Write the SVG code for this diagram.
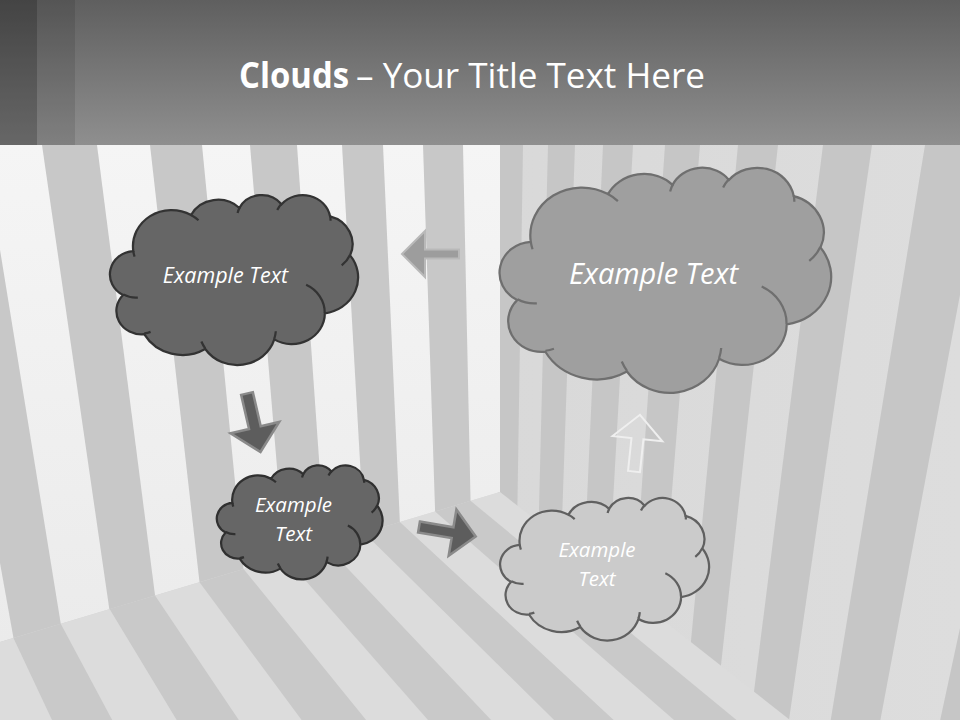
<svg xmlns="http://www.w3.org/2000/svg" xmlns:xlink="http://www.w3.org/1999/xlink" width="960" height="720" viewBox="0 0 960 720">
<defs>
<linearGradient id="hdr" x1="0" y1="0" x2="0" y2="1"><stop offset="0" stop-color="#5f5f5f"/><stop offset="1" stop-color="#8f8f8f"/></linearGradient>
<linearGradient id="lw" x1="0" y1="0" x2="0" y2="1"><stop offset="0" stop-color="#f5f5f5"/><stop offset="1" stop-color="#ebebeb"/></linearGradient>
<linearGradient id="rw" x1="0" y1="0" x2="1" y2="0"><stop offset="0" stop-color="#cfcfcf"/><stop offset="0.45" stop-color="#d8d8d8"/><stop offset="1" stop-color="#dddddd"/></linearGradient>
<path id="cloud" vector-effect="non-scaling-stroke" d="M3900 14370 A6753 9190 0 0 1 14005 5202 A5333 7267 0 0 1 22457 3434 A4365 5945 0 0 1 29834 2483 A4857 6595 0 0 1 38320 5578 A5333 7273 0 0 1 41820 15461 A6775 9220 0 0 1 37406 30205 A5785 7867 0 0 1 28558 36815 A6752 9215 0 0 1 16483 39268 A7720 10543 0 0 1 5808 35476 A4360 5918 0 0 1 2116 25555 A4345 5945 0 0 1 3900 14370 Z"/>
<path id="cloudIn" fill="none" vector-effect="non-scaling-stroke" d="M4693 26177 A4345 5945 0 0 1 2160 25380 M6928 34899 A4360 5918 0 0 1 5820 35280 M16478 39090 A6752 9215 0 0 1 15809 37348 M28827 34751 A6752 9215 0 0 1 28560 36660 M34129 22954 A5785 7867 0 0 1 37380 30090 M41798 15354 A5333 7273 0 0 1 40350 18030 M38324 5426 A4857 6595 0 0 1 38400 6690 M29078 3952 A4857 6595 0 0 1 29820 2340 M22141 4720 A4365 5945 0 0 1 22500 3330 M14000 5192 A6753 9190 0 0 1 15302 6544 M4127 15789 A6753 9190 0 0 1 3900 14371"/>
</defs>
<style>
.lwg{fill:#c8c8c8}
.rwg{fill:#c6c6c6}
.flg{fill:#c9c9c9}
.lbl{font-family:"Open Sans","Liberation Sans",sans-serif;font-style:italic;fill:#ffffff;text-anchor:middle}
.ttl{font-family:"Open Sans","Liberation Sans",sans-serif;fill:#ffffff;font-size:35px}
.dark{fill:#5d5d5d;stroke:#8a8a8a;stroke-width:2.5;stroke-linejoin:miter}
</style>

<g id="background">
  <rect x="0" y="145" width="960" height="575" fill="url(#rw)"/>
  <polygon class="rwg" points="500,145 523,145 514.1,720 496,720"/>
  <polygon class="rwg" points="548,145 575,145 555.1,720 533.8,720"/>
  <polygon class="rwg" points="603,145 633,145 600.8,720 577.1,720"/>
  <polygon class="rwg" points="665,145 700,145 653.5,720 626,720"/>
  <polygon class="rwg" points="738,145 778,145 715,720 683.5,720"/>
  <polygon class="rwg" points="823,145 872,145 789,720 750.4,720"/>
  <polygon class="rwg" points="925,145 988,145 880.4,720 830.7,720"/>
  <polygon class="rwg" points="1064,145 1150,145 1008,720 940.2,720"/>

  <polygon points="0,145 500,145 500,492 0,642" fill="url(#lw)"/>
  <polygon class="lwg" points="-75,145 -17,145 76.4,720 28.2,720"/>
  <polygon class="lwg" points="42,145 97,145 171.1,720 125.4,720"/>
  <polygon class="lwg" points="150,145 202,145 258.3,720 215.1,720"/>
  <polygon class="lwg" points="250,145 297,145 337.3,720 298.2,720"/>
  <polygon class="lwg" points="342,145 383,145 408.7,720 374.7,720"/>
  <polygon class="lwg" points="423,145 463,145 475.2,720 442,720"/>

  <polygon points="0,642 500,492 790,720 0,720" fill="#dcdcdc"/>
  <polygon class="flg" points="13.45,638 60.73,623.8 112.2,720 52,720"/>
  <polygon class="flg" points="109.58,609.1 155.04,595.5 238.8,720 176.7,720"/>
  <polygon class="flg" points="199.5,582.2 243.53,568.9 366.1,720 301.6,720"/>
  <polygon class="flg" points="284.51,556.6 324.96,544.5 491.1,720 428,720"/>
  <polygon class="flg" points="364.01,532.8 399.86,522 613.7,720 554.1,720"/>
  <polygon class="flg" points="435.07,511.5 470.53,500.8 736.5,720 674,720"/>

  <rect x="0" y="0" width="960" height="145" fill="url(#hdr)"/>
  <rect x="0" y="0" width="37" height="145" fill="#000" fill-opacity="0.28"/>
  <rect x="37" y="0" width="38" height="145" fill="#000" fill-opacity="0.1"/>
</g>

<g id="title">
  <text class="ttl" x="239" y="88" font-weight="bold" textLength="110" lengthAdjust="spacingAndGlyphs">Clouds</text>
  <text class="ttl" x="356" y="88" textLength="349" lengthAdjust="spacingAndGlyphs">– Your Title Text Here</text>
</g>

<g id="connectors">
  <path d="M402,254 L425,231 L425,249.5 L459,249.5 L459,258.5 L425,258.5 L425,277 Z" fill="#9d9d9d" stroke="#b9b9b9" stroke-width="2"/>
  <path class="dark" transform="translate(247,393.5) rotate(-13)" d="M-6,0 L6,0 L6,35 L25,35 L0,60 L-25,35 L-6,35 Z"/>
  <path class="dark" transform="translate(419,527) rotate(9.5)" d="M0,-5.5 L34,-5.5 L34,-23.5 L57.5,0 L34,23.5 L34,5.5 L0,5.5 Z"/>
  <path transform="translate(634,471.5) rotate(6)" d="M-6,0 L6,0 L6,-33 L25,-33 L0,-57 L-25,-33 L-6,-33 Z" fill="none" stroke="#efefef" stroke-width="2"/>
</g>

<g id="cloud1">
  <use xlink:href="#cloud" href="#cloud" transform="translate(111,194.5) scale(0.0057176,0.0039352)" fill="#666666" stroke="#333333" stroke-width="2.25"/>
  <use xlink:href="#cloudIn" href="#cloudIn" transform="translate(111,194.5) scale(0.0057176,0.0039352)" stroke="#333333" stroke-width="2.25"/>
  <text class="lbl" x="225.5" y="283" font-size="21.5">Example Text</text>
</g>

<g id="cloud2">
  <use xlink:href="#cloud" href="#cloud" transform="translate(501,167) scale(0.0076389,0.0052083)" fill="#9f9f9f" stroke="#6f6f6f" stroke-width="2.25"/>
  <use xlink:href="#cloudIn" href="#cloudIn" transform="translate(501,167) scale(0.0076389,0.0052083)" stroke="#6f6f6f" stroke-width="2.25"/>
  <text class="lbl" x="653.5" y="284" font-size="29">Example Text</text>
</g>

<g id="cloud3">
  <use xlink:href="#cloud" href="#cloud" transform="translate(217.5,465) scale(0.0038194,0.0026389)" fill="#666666" stroke="#303030" stroke-width="2.25"/>
  <use xlink:href="#cloudIn" href="#cloudIn" transform="translate(217.5,465) scale(0.0038194,0.0026389)" stroke="#303030" stroke-width="2.25"/>
  <text class="lbl" x="293.5" y="512" font-size="20.5">Example</text>
  <text class="lbl" x="293.5" y="541" font-size="20.5">Text</text>
</g>

<g id="cloud4">
  <use xlink:href="#cloud" href="#cloud" transform="translate(501,497.5) scale(0.0048148,0.0032986)" fill="#cbcbcb" stroke="#606060" stroke-width="2.25"/>
  <use xlink:href="#cloudIn" href="#cloudIn" transform="translate(501,497.5) scale(0.0048148,0.0032986)" stroke="#606060" stroke-width="2.25"/>
  <text class="lbl" x="597" y="557" font-size="20.5" fill="#f2f2f2">Example</text>
  <text class="lbl" x="597" y="586" font-size="20.5" fill="#f2f2f2">Text</text>
</g>
</svg>
